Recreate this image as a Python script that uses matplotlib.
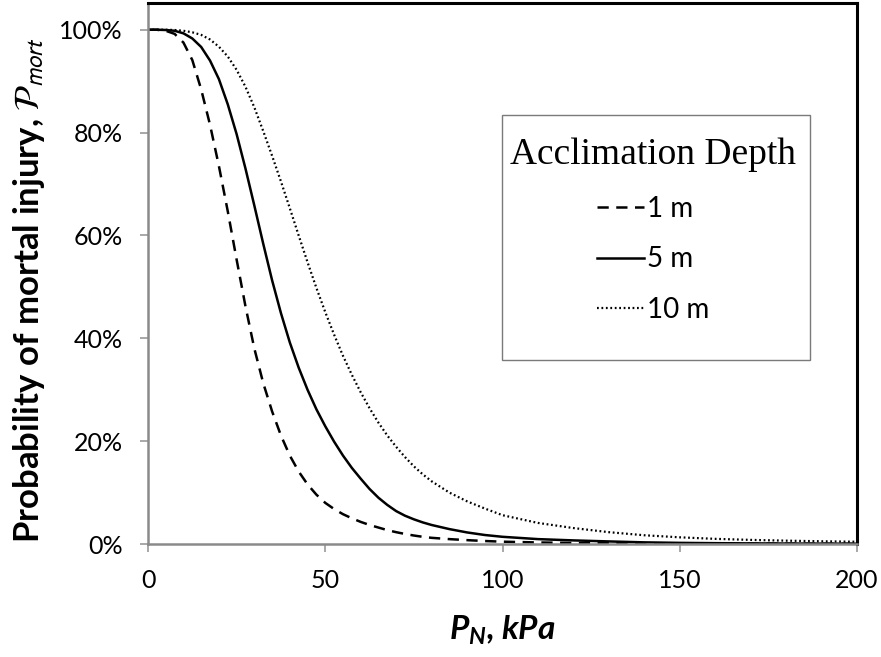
import matplotlib
matplotlib.use("Agg")
import matplotlib.pyplot as plt
from matplotlib.ticker import PercentFormatter, FixedLocator
from matplotlib.patches import Rectangle

# ---- data ----
pressure_kpa = [0, 2.5, 5, 7.5, 10, 12.5, 15, 17.5, 20, 22.5, 25, 27.5, 30, 32.5, 35, 37.5, 40,
                42.5, 45, 47.5, 50, 52.5, 55, 57.5, 60, 62.5, 65, 67.5, 70, 72.5, 75, 77.5, 80,
                85, 90, 95, 100, 110, 120, 130, 140, 150, 160, 170, 180, 190, 200]
p_mort_1m = [1.000, 1.000, 0.998, 0.992, 0.975, 0.941, 0.884, 0.815, 0.735, 0.647, 0.553, 0.462,
             0.380, 0.313, 0.258, 0.211, 0.172, 0.141, 0.116, 0.096, 0.080, 0.068, 0.058, 0.050,
             0.043, 0.037, 0.032, 0.027, 0.023, 0.0195, 0.0165, 0.014, 0.012,
             0.0095, 0.0075, 0.0058, 0.0045, 0.003, 0.002, 0.0014, 0.001, 0.0008, 0.0006, 0.0005,
             0.0004, 0.0003, 0.0003]
p_mort_5m = [1.000, 1.000, 0.9995, 0.998, 0.993, 0.983, 0.9665, 0.940, 0.904, 0.855, 0.797, 0.730,
             0.658, 0.584, 0.513, 0.449, 0.392, 0.343, 0.300, 0.262, 0.229, 0.199, 0.172, 0.148,
             0.127, 0.107, 0.090, 0.076, 0.064, 0.055, 0.048, 0.042, 0.037,
             0.029, 0.0225, 0.0175, 0.014, 0.0095, 0.007, 0.005, 0.0032, 0.0022, 0.0016, 0.0012,
             0.0009, 0.0007, 0.0005]
p_mort_10m = [1.000, 1.000, 1.000, 0.9995, 0.998, 0.995, 0.990, 0.981, 0.967, 0.948, 0.922, 0.889,
              0.849, 0.803, 0.755, 0.705, 0.653, 0.600, 0.548, 0.498, 0.451, 0.407, 0.366, 0.329,
              0.295, 0.264, 0.236, 0.211, 0.189, 0.169, 0.151, 0.1355, 0.122,
              0.100, 0.083, 0.069, 0.056, 0.041, 0.031, 0.023, 0.017, 0.013, 0.010, 0.008,
              0.0065, 0.0053, 0.0044]
series_labels = ["1 m", "5 m", "10 m"]
legend_title = "Acclimation Depth"
x_ticks = [0, 50, 100, 150, 200]
y_ticks = [0.0, 0.2, 0.4, 0.6, 0.8, 1.0]

# ---- style ----
plt.rcParams['font.family'] = ['Lato', 'DejaVu Sans']
plt.rcParams['mathtext.fontset'] = 'custom'
plt.rcParams['mathtext.it'] = 'Lato:bold:italic'
plt.rcParams['mathtext.rm'] = 'Lato:bold'
plt.rcParams['mathtext.bf'] = 'Lato:bold'

W, H = 881, 657
AX_L, AX_R, AX_T, AX_B = 148, 857, 3, 544

fig = plt.figure(figsize=(W / 100, H / 100), dpi=100)
ax = fig.add_axes([AX_L / W, 1 - AX_B / H, (AX_R - AX_L) / W, (AX_B - AX_T) / H])


def ax_coords(px, py):
    return ((px - AX_L) / (AX_R - AX_L), (AX_B - py) / (AX_B - AX_T))


ax.plot(pressure_kpa, p_mort_1m, color='black', lw=1.8, linestyle=(0, (4.5, 3)), label=series_labels[0])
ax.plot(pressure_kpa, p_mort_5m, color='black', lw=1.8, linestyle='-', label=series_labels[1])
ax.plot(pressure_kpa, p_mort_10m, color='black', lw=1.6, linestyle=(0, (0.8, 1.2)), label=series_labels[2])

ax.set_xlim(0, 200)
ax.set_ylim(0, 1.052)
ax.xaxis.set_major_locator(FixedLocator(x_ticks))
ax.yaxis.set_major_locator(FixedLocator(y_ticks))
ax.yaxis.set_major_formatter(PercentFormatter(1.0, decimals=0))

for side in ('left', 'bottom'):
    ax.spines[side].set_color('#8a8a8a')
    ax.spines[side].set_linewidth(1.8)
for side in ('top', 'right'):
    ax.spines[side].set_color('black')
    ax.spines[side].set_linewidth(2.2)

ax.tick_params(axis='both', direction='out', length=6, width=1.2, color='#9a9a9a',
               labelsize=18, labelcolor='black', pad=12)

ax.set_xlabel(r"$P_N$, kPa", fontsize=24, fontweight='bold', fontstyle='italic', labelpad=16)
ylab = ax.set_ylabel(r"Probability of mortal injury, $\mathcal{P}_{mort}$", fontsize=25,
                     fontweight='bold')
ylab.set_math_fontfamily('stixsans')
ax.yaxis.set_label_coords(ax_coords(47, 0)[0], ax_coords(0, 290)[1])

# legend frame drawn as a rectangle, legend contents without frame
fx0, fy0 = ax_coords(502, 360)
fx1, fy1 = ax_coords(810, 115)
ax.add_patch(Rectangle((fx0, fy0), fx1 - fx0, fy1 - fy0, transform=ax.transAxes,
                       facecolor='white', edgecolor='#7a7a7a', linewidth=1.0, zorder=4))

leg = ax.legend(loc='upper center', bbox_to_anchor=ax_coords(653, 137),
                title=legend_title, fontsize=20, handlelength=1.7, handletextpad=0.1,
                labelspacing=0.88, borderpad=0.0, frameon=False, borderaxespad=0,
                title_fontproperties={'family': 'Liberation Serif', 'size': 27})
leg.set_zorder(5)
leg.get_title().set_family('Liberation Serif')

fig.savefig("out.png", dpi=100)
